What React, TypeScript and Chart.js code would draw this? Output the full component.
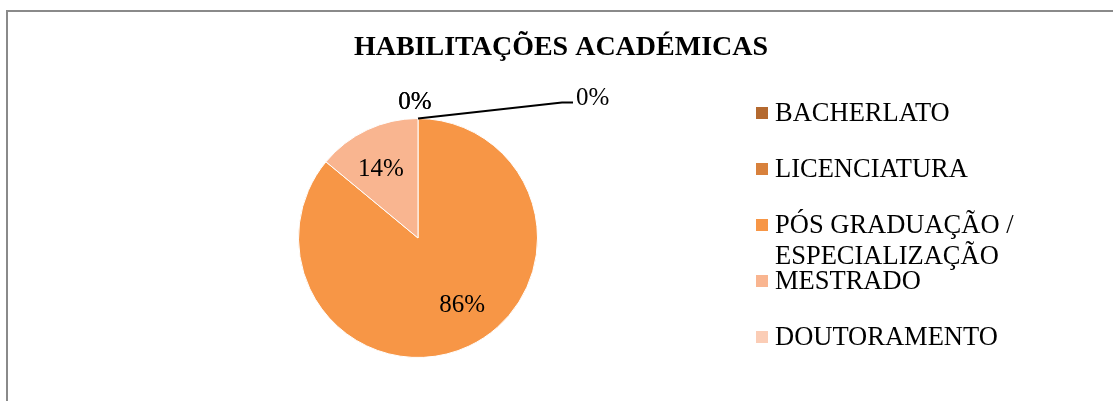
import React, { useEffect, useRef } from 'react';
import { Chart, registerables } from 'chart.js';

Chart.register(...registerables);

const TITLE = 'HABILITAÇÕES ACADÉMICAS';
const categories = ['BACHERLATO', 'LICENCIATURA', 'PÓS GRADUAÇÃO /\nESPECIALIZAÇÃO', 'MESTRADO', 'DOUTORAMENTO'];
const values = [0, 0, 86, 14, 0];
const colors = ['#B4692F', '#D8813C', '#F79646', '#F9B590', '#FBCDB6'];
// small per-slice nudges of the in-slice labels (style only)
const labelNudgeX = [0, 0, 10, -3, 0];
const labelNudgeY = [0, 0, -6, 3, 0];

const SERIF = '"Liberation Serif", "Times New Roman", serif';

const framePlugin = {
  id: 'frame',
  beforeDraw(chart: any) {
    const ctx = chart.ctx;
    ctx.save();
    ctx.fillStyle = '#ffffff';
    ctx.fillRect(0, 0, chart.width, chart.height);
    ctx.strokeStyle = '#8a8a8a';
    ctx.lineWidth = 2;
    ctx.beginPath();
    ctx.moveTo(7, chart.height + 5);
    ctx.lineTo(7, 11);
    ctx.lineTo(chart.width + 5, 11);
    ctx.stroke();
    ctx.restore();
  },
};

const titlePlugin = {
  id: 'customTitle',
  afterDraw(chart: any) {
    const ctx = chart.ctx;
    ctx.save();
    ctx.fillStyle = '#000';
    ctx.font = `bold 28px ${SERIF}`;
    ctx.textAlign = 'center';
    ctx.textBaseline = 'middle';
    ctx.fillText(TITLE, 561, 48);
    ctx.restore();
  },
};

const legendPlugin = {
  id: 'customLegend',
  afterDraw(chart: any) {
    const ctx = chart.ctx;
    const labels: string[] = chart.data.labels;
    const bg: string[] = chart.data.datasets[0].backgroundColor;
    ctx.save();
    ctx.font = `26.5px ${SERIF}`;
    ctx.textAlign = 'left';
    ctx.textBaseline = 'middle';
    labels.forEach((lab, i) => {
      const yc = 113 + i * 56;
      ctx.fillStyle = bg[i];
      ctx.fillRect(756, yc - 6, 12, 12);
      ctx.fillStyle = '#000';
      String(lab).split('\n').forEach((line, k) => {
        ctx.fillText(line, 775, yc + 1 + k * 31);
      });
    });
    ctx.restore();
  },
};

const labelPlugin = {
  id: 'sliceLabels',
  afterDatasetsDraw(chart: any) {
    const ctx = chart.ctx;
    const meta = chart.getDatasetMeta(0);
    const data: number[] = chart.data.datasets[0].data;
    ctx.save();
    ctx.fillStyle = '#000';
    ctx.strokeStyle = '#000';
    ctx.font = `25px ${SERIF}`;
    ctx.textBaseline = 'middle';
    meta.data.forEach((arc: any, i: number) => {
      const p = arc.getProps(['x', 'y', 'startAngle', 'endAngle', 'outerRadius'], true);
      const v = data[i];
      const txt = `${v}%`;
      if (v > 0) {
        const mid = (p.startAngle + p.endAngle) / 2;
        const d = p.outerRadius * 0.67;
        ctx.textAlign = 'center';
        ctx.fillText(
          txt,
          p.x + Math.cos(mid) * d + labelNudgeX[i],
          p.y + Math.sin(mid) * d + 1 + labelNudgeY[i]
        );
      } else {
        const ex = p.x + Math.cos(p.startAngle) * p.outerRadius;
        const ey = p.y + Math.sin(p.startAngle) * p.outerRadius;
        if (i === 1) {
          ctx.lineWidth = 2;
          ctx.beginPath();
          ctx.moveTo(ex, ey);
          ctx.lineTo(ex + 144, ey - 16);
          ctx.lineTo(ex + 155, ey - 16);
          ctx.stroke();
          ctx.textAlign = 'left';
          ctx.fillText(txt, ex + 158, ey - 20);
        } else {
          ctx.textAlign = 'center';
          ctx.fillText(txt, ex - 3, ey - 16);
        }
      }
    });
    ctx.restore();
  },
};

export default function App() {
  const ref = useRef<HTMLCanvasElement | null>(null);

  useEffect(() => {
    if (!ref.current) return;
    const chart = new Chart(ref.current, {
      type: 'pie',
      data: {
        labels: categories,
        datasets: [
          {
            data: values,
            backgroundColor: colors,
            borderColor: '#ffffff',
            borderWidth: 1,
          },
        ],
      },
      options: {
        animation: false,
        responsive: false,
        maintainAspectRatio: false,
        layout: { padding: { left: 298, right: 575, top: 118, bottom: 43 } },
        plugins: {
          legend: { display: false },
          title: { display: false },
          tooltip: { enabled: false },
        },
      },
      plugins: [framePlugin, labelPlugin, titlePlugin, legendPlugin],
    });
    return () => chart.destroy();
  }, []);

  return (
    <div style={{ position: 'fixed', left: 0, top: 0, width: 1113, height: 401, background: '#fff' }}>
      <canvas ref={ref} width={1113} height={401} style={{ display: 'block', width: 1113, height: 401 }} />
    </div>
  );
}
